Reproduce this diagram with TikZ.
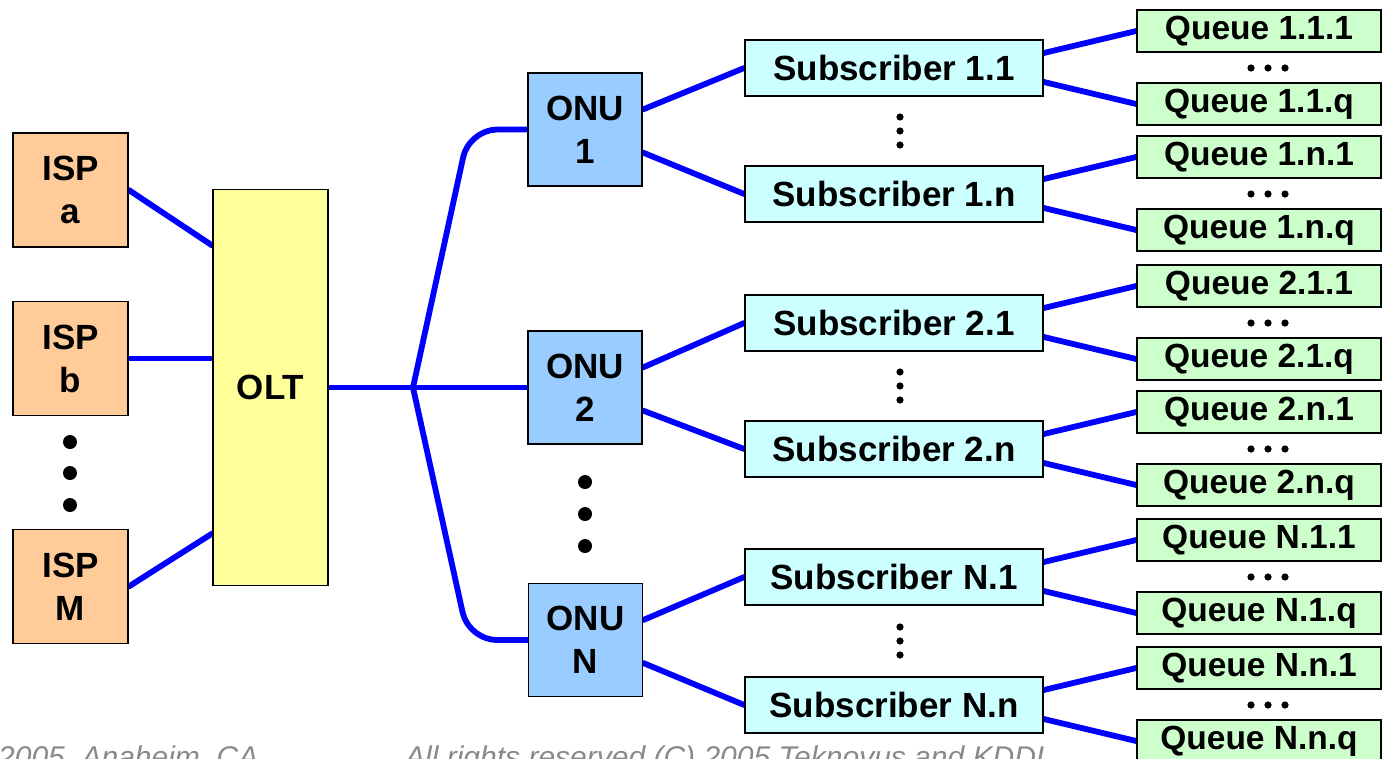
\documentclass[tikz,border=0pt]{standalone}
\usepackage{fontspec}
\setmainfont{Liberation Sans}
\usetikzlibrary{backgrounds}
\definecolor{ispc}{HTML}{FFCC99}
\definecolor{oltc}{HTML}{FFFF99}
\definecolor{onuc}{HTML}{99CCFF}
\definecolor{subc}{HTML}{CCFFFF}
\definecolor{qc}{HTML}{CCFFCC}
\definecolor{linkc}{HTML}{0000FF}
\definecolor{footc}{HTML}{8A8A8A}
\begin{document}
\begin{tikzpicture}[x=1pt,y=-1pt,
  box/.style={draw=black, line width=1.6pt, inner sep=0pt, align=center, font=\bfseries\fontsize{35}{43}\selectfont},
  isp/.style={box, fill=ispc, minimum width=115pt, minimum height=114pt},
  olt/.style={box, fill=oltc, minimum width=115pt, minimum height=396pt},
  onu/.style={box, fill=onuc, minimum width=114pt, minimum height=113pt},
  sub/.style={box, fill=subc, minimum width=298pt, minimum height=56pt},
  queue/.style={box, fill=qc, minimum width=244pt, minimum height=42pt, font=\bfseries\fontsize{33.5}{36}\selectfont},
  link/.style={draw=linkc, line width=5.8pt, line cap=round, line join=round},
  foot/.style={anchor=base west, inner sep=0pt, text=footc, font=\itshape\fontsize{30}{30}\selectfont}]
\useasboundingbox (0,0) rectangle (1383,758);

% ISPs and OLT
\node[isp] (ispa) at (70.5,190) {ISP\\a};
\node[isp] (ispb) at (70.5,358.5) {ISP\\b};
\node[isp] (ispm) at (70.5,586.5) {ISP\\M};
\node[olt] (olt) at (270.5,387.5) {OLT};
\foreach \y in {442,473,505} \fill (70,\y) circle (7pt);

% ONUs
\node[onu] (onu1) at (585,129.5) {ONU\\1};
\node[onu] (onu2) at (585,387.5) {ONU\\2};
\node[onu] (onun) at (585.5,640) {ONU\\N};
\foreach \y in {482,514,546} \fill (585,\y) circle (7pt);
\coordinate (split) at (413,387.5);

% Subscribers and queues
\foreach \nm/\lab/\c in {s11/1.1/68, s1n/1.n/194, s21/2.1/323, s2n/2.n/449, sN1/N.1/577, sNn/N.n/705}{
  \node[sub] (\nm) at (894,\c) {Subscriber \lab};
  \node[queue] (\nm a) at (1259,\c-37) {Queue \lab.1};
  \node[queue] (\nm b) at (1259,\c+36) {Queue \lab.q};
  \foreach \x in {1251,1268,1285} \fill (\x,\c) circle (3.6pt);
  \begin{scope}[on background layer]
    \draw[link] ([yshift=15pt]\nm.east) -- (\nm a.west);
    \draw[link] ([yshift=-14pt]\nm.east) -- (\nm b.west);
  \end{scope}
}
\foreach \c in {131,386,641} \foreach \d in {-14,0,14} \fill (900,\c+\d) circle (3.6pt);

\begin{scope}[on background layer]
  \draw[link] (ispa.east) -- ([yshift=142pt]olt.west);
  \draw[link] (ispb.east) -- (ispb.east -| olt.west);
  \draw[link] (ispm.east) -- ([yshift=-146pt]olt.west);
  \draw[link] (olt.east) -- (split);
  \draw[link] (split) -- (onu2.west);
  \draw[link, rounded corners=28pt] (split) -- ([xshift=-58pt]onu1.west) -- (onu1.west);
  \draw[link, rounded corners=28pt] (split) -- ([xshift=-59pt]onun.west) -- (onun.west);
  \foreach \o/\a/\b in {onu1/s11/s1n, onu2/s21/s2n, onun/sN1/sNn}{
    \draw[link] ([yshift=20pt]\o.east) -- (\a.west);
    \draw[link] ([yshift=-23pt]\o.east) -- (\b.west);
  }
\end{scope}

% footer (cut by the page edge, as in the original)
\node[foot] (foot1) at (-2,767) {2005, Anaheim, CA};
\node[foot] (foot2) at (405,767) {All rights reserved (C) 2005 Teknovus and KDDI};
\end{tikzpicture}
\end{document}
